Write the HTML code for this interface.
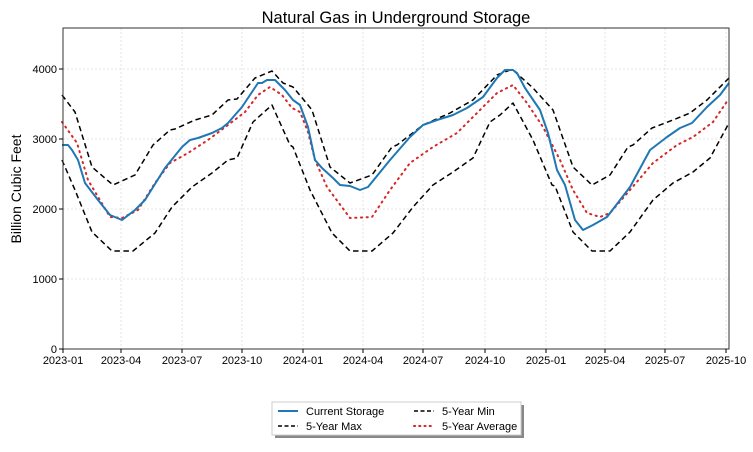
<!DOCTYPE html>
<html><head><meta charset="utf-8"><style>
body{margin:0;background:#fff}
svg{display:block;font-family:"Liberation Sans",sans-serif}
</style></head><body>
<svg width="753" height="452" viewBox="0 0 753 452" xmlns="http://www.w3.org/2000/svg">
<rect width="753" height="452" fill="#fff"/>
<text x="396" y="23" font-size="16.5" text-anchor="middle" fill="#000">Natural Gas in Underground Storage</text>
<g stroke="#ddd" stroke-width="0.8" stroke-dasharray="2,2">
<line x1="63" y1="279" x2="729" y2="279"/><line x1="63" y1="209" x2="729" y2="209"/><line x1="63" y1="139" x2="729" y2="139"/><line x1="63" y1="69" x2="729" y2="69"/>
<line x1="121" y1="28" x2="121" y2="349"/><line x1="182" y1="28" x2="182" y2="349"/><line x1="242" y1="28" x2="242" y2="349"/><line x1="303" y1="28" x2="303" y2="349"/><line x1="363" y1="28" x2="363" y2="349"/><line x1="423" y1="28" x2="423" y2="349"/><line x1="485" y1="28" x2="485" y2="349"/><line x1="546" y1="28" x2="546" y2="349"/><line x1="605" y1="28" x2="605" y2="349"/><line x1="665" y1="28" x2="665" y2="349"/><line x1="726" y1="28" x2="726" y2="349"/>
</g>
<g fill="none" stroke-linejoin="round">
<polyline stroke="#000" stroke-width="1.5" stroke-dasharray="5.5,3.5" points="62,95 75,112 92,167 113,185 135,175 153,145 170,130 175,129 195,120 212,115 228,100 237,99 255,78 272,71 283,83 293,87 308,105 312,110 330,167 350,183 372,175 392,147 397,145 423,125 450,113 473,100 497,75 510,70 513,70 533,88 553,110 573,167 592,185 610,175 628,147 633,145 652,128 673,120 690,113 707,100 729,78"/>
<polyline stroke="#000" stroke-width="1.5" stroke-dasharray="5.5,3.5" points="62,160 75,190 92,232 112,251 133,251 155,233 172,207 192,187 212,173 228,160 237,158 253,122 272,105 290,145 293,147 310,190 332,233 350,251 372,251 393,233 413,207 433,185 453,172 473,158 490,122 500,115 513,103 533,140 552,185 555,186 573,232 592,251 610,251 630,232 653,200 673,183 693,172 710,158 729,123"/>
<polyline stroke="#d62728" stroke-width="2" stroke-dasharray="1.2,4.5" stroke-linecap="round" points="62,122 77,143 88,180 110,217 122,218 138,210 155,183 170,163 188,153 208,140 228,125 245,112 258,95 270,87 282,95 292,108 300,112 308,132 315,160 327,187 350,218 372,217 390,190 410,163 433,147 457,133 477,113 497,93 513,85 527,103 543,127 560,160 573,190 587,213 600,217 610,213 630,190 653,163 677,145 693,137 713,122 728,100"/>
<polyline stroke="#1f77b4" stroke-width="2" points="62,145 68,145 72,150 78,160 85,183 98,200 110,215 122,220 135,210 145,200 165,168 182,147 190,140 198,138 212,133 222,128 228,123 242,107 258,83 262,83 267,80 275,80 285,90 293,100 300,105 308,127 315,160 322,168 333,178 340,185 350,186 360,190 368,187 390,160 410,137 423,125 437,120 453,115 467,108 483,97 497,78 505,70 513,70 517,73 525,88 540,110 548,133 557,170 565,185 575,220 583,230 593,225 607,217 630,187 650,150 667,137 680,128 692,123 707,107 720,95 729,83"/>
</g>
<rect x="63" y="28" width="666" height="321" fill="none" stroke="#333" stroke-width="1"/>
<g stroke="#000" stroke-width="1">
<line x1="59" y1="349" x2="63" y2="349"/><line x1="59" y1="279" x2="63" y2="279"/><line x1="59" y1="209" x2="63" y2="209"/><line x1="59" y1="139" x2="63" y2="139"/><line x1="59" y1="69" x2="63" y2="69"/>
<line x1="63" y1="349" x2="63" y2="353"/><line x1="121" y1="349" x2="121" y2="353"/><line x1="182" y1="349" x2="182" y2="353"/><line x1="242" y1="349" x2="242" y2="353"/><line x1="303" y1="349" x2="303" y2="353"/><line x1="363" y1="349" x2="363" y2="353"/><line x1="423" y1="349" x2="423" y2="353"/><line x1="485" y1="349" x2="485" y2="353"/><line x1="546" y1="349" x2="546" y2="353"/><line x1="605" y1="349" x2="605" y2="353"/><line x1="665" y1="349" x2="665" y2="353"/><line x1="726" y1="349" x2="726" y2="353"/>
</g>
<g font-size="11" fill="#000" text-anchor="end">
<text x="57" y="353">0</text><text x="57" y="283">1000</text><text x="57" y="213">2000</text><text x="57" y="143">3000</text><text x="57" y="73">4000</text>
</g>
<g font-size="11" fill="#000" text-anchor="middle">
<text x="63" y="364">2023-01</text><text x="121" y="364">2023-04</text><text x="182" y="364">2023-07</text><text x="242" y="364">2023-10</text><text x="303" y="364">2024-01</text><text x="363" y="364">2024-04</text><text x="423" y="364">2024-07</text><text x="485" y="364">2024-10</text><text x="546" y="364">2025-01</text><text x="605" y="364">2025-04</text><text x="665" y="364">2025-07</text><text x="726" y="364">2025-10</text>
</g>
<text transform="translate(21,189) rotate(-90)" font-size="14" text-anchor="middle" fill="#000">Billion Cubic Feet</text>
<rect x="275" y="405" width="249" height="33" fill="#888"/>
<rect x="272" y="402" width="249" height="33" fill="#fff" stroke="#ccc"/>
<g fill="none" stroke-width="2">
<line x1="278" y1="411" x2="298" y2="411" stroke="#1f77b4"/>
<line x1="278" y1="426" x2="298" y2="426" stroke="#000" stroke-width="1.5" stroke-dasharray="4,2.5"/>
<line x1="414" y1="411" x2="434" y2="411" stroke="#000" stroke-width="1.5" stroke-dasharray="4,2.5"/>
<line x1="414" y1="426" x2="434" y2="426" stroke="#d62728" stroke-dasharray="1.2,4" stroke-linecap="round"/>
</g>
<g font-size="11" fill="#000">
<text x="306" y="415">Current Storage</text>
<text x="306" y="430">5-Year Max</text>
<text x="442" y="415">5-Year Min</text>
<text x="442" y="430">5-Year Average</text>
</g>
</svg>
</body></html>
